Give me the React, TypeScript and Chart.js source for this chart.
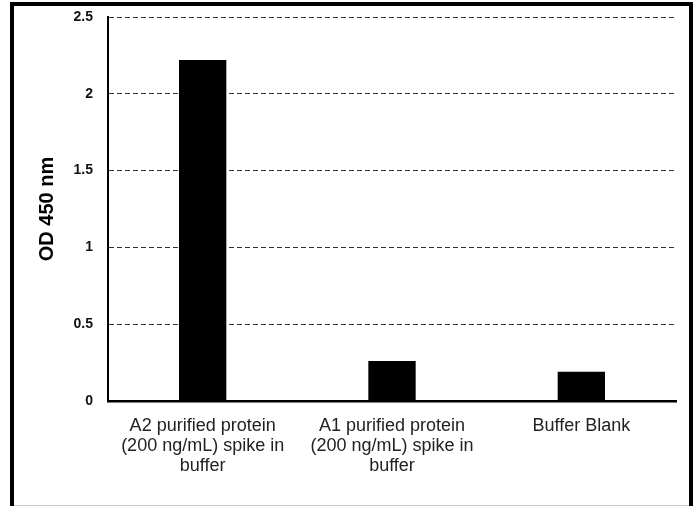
import React, { useEffect, useRef } from "react";
import { Chart, registerables } from "chart.js";

Chart.register(...registerables);

const categories: string[][] = [
  ["A2 purified protein", "(200 ng/mL) spike in", "buffer"],
  ["A1 purified protein", "(200 ng/mL) spike in", "buffer"],
  ["Buffer Blank"],
];
const odValues: number[] = [2.22, 0.26, 0.19];
const yTicks: number[] = [0, 0.5, 1, 1.5, 2, 2.5];
const yTitle = "OD 450 nm";

const FONT = "Liberation Sans, Arial, sans-serif";

export default function App() {
  const ref = useRef<HTMLCanvasElement | null>(null);
  useEffect(() => {
    if (!ref.current) return;
    const chart = new Chart(ref.current, {
      type: "bar",
      data: {
        labels: categories,
        datasets: [
          {
            data: odValues,
            backgroundColor: "#000000",
            borderWidth: 0,
            categoryPercentage: 1,
            barPercentage: 0.25,
          },
        ],
      },
      options: {
        animation: false,
        responsive: false,
        maintainAspectRatio: false,
        plugins: { legend: { display: false }, tooltip: { enabled: false } },
        layout: { padding: { left: 33, right: 18, top: 17, bottom: 0 } },
        scales: {
          x: {
            grid: { display: false, drawTicks: false },
            border: { display: true, color: "#000", width: 2.5 },
            ticks: {
              color: "#222",
              padding: 15,
              maxRotation: 0,
              autoSkip: false,
              font: { family: FONT, size: 18, lineHeight: 1.12 },
            },
            afterFit: (s: any) => {
              s.height = 105;
            },
          },
          y: {
            min: 0,
            max: 2.5,
            afterBuildTicks: (s: any) => {
              s.ticks = yTicks.map((v) => ({ value: v }));
            },
            grid: {
              color: "#333",
              lineWidth: 1,
              drawTicks: true,
              tickLength: 11,
              tickColor: "rgba(0,0,0,0)",
            },
            border: { display: true, color: "#000", width: 2, dash: [5, 3] },
            ticks: {
              color: "#111",
              padding: 4,
              font: { family: FONT, size: 14, weight: "bold" },
              callback: (v: any) => String(v),
            },
            title: {
              display: true,
              text: yTitle,
              color: "#000",
              font: { family: FONT, size: 20, weight: "bold" },
              padding: { top: 2, bottom: 4 },
            },
            afterFit: (s: any) => {
              s.width = 75;
            },
          },
        },
      },
    } as any);
    return () => chart.destroy();
  }, []);
  return (
    <div style={{ position: "absolute", left: 0, top: 0, width: 694, height: 506, background: "#fff", overflow: "hidden" }}>
      <canvas ref={ref} width={694} height={506} style={{ position: "absolute", left: 0, top: 0 }} />
      <div
        style={{
          position: "absolute",
          left: 10,
          top: 2,
          width: 683,
          height: 520,
          border: "4px solid #000",
          boxSizing: "border-box",
          pointerEvents: "none",
        }}
      />
      <div
        style={{
          position: "absolute",
          left: 14,
          top: 505,
          width: 675,
          height: 1,
          background: "#c8c8c8",
          pointerEvents: "none",
        }}
      />
    </div>
  );
}
